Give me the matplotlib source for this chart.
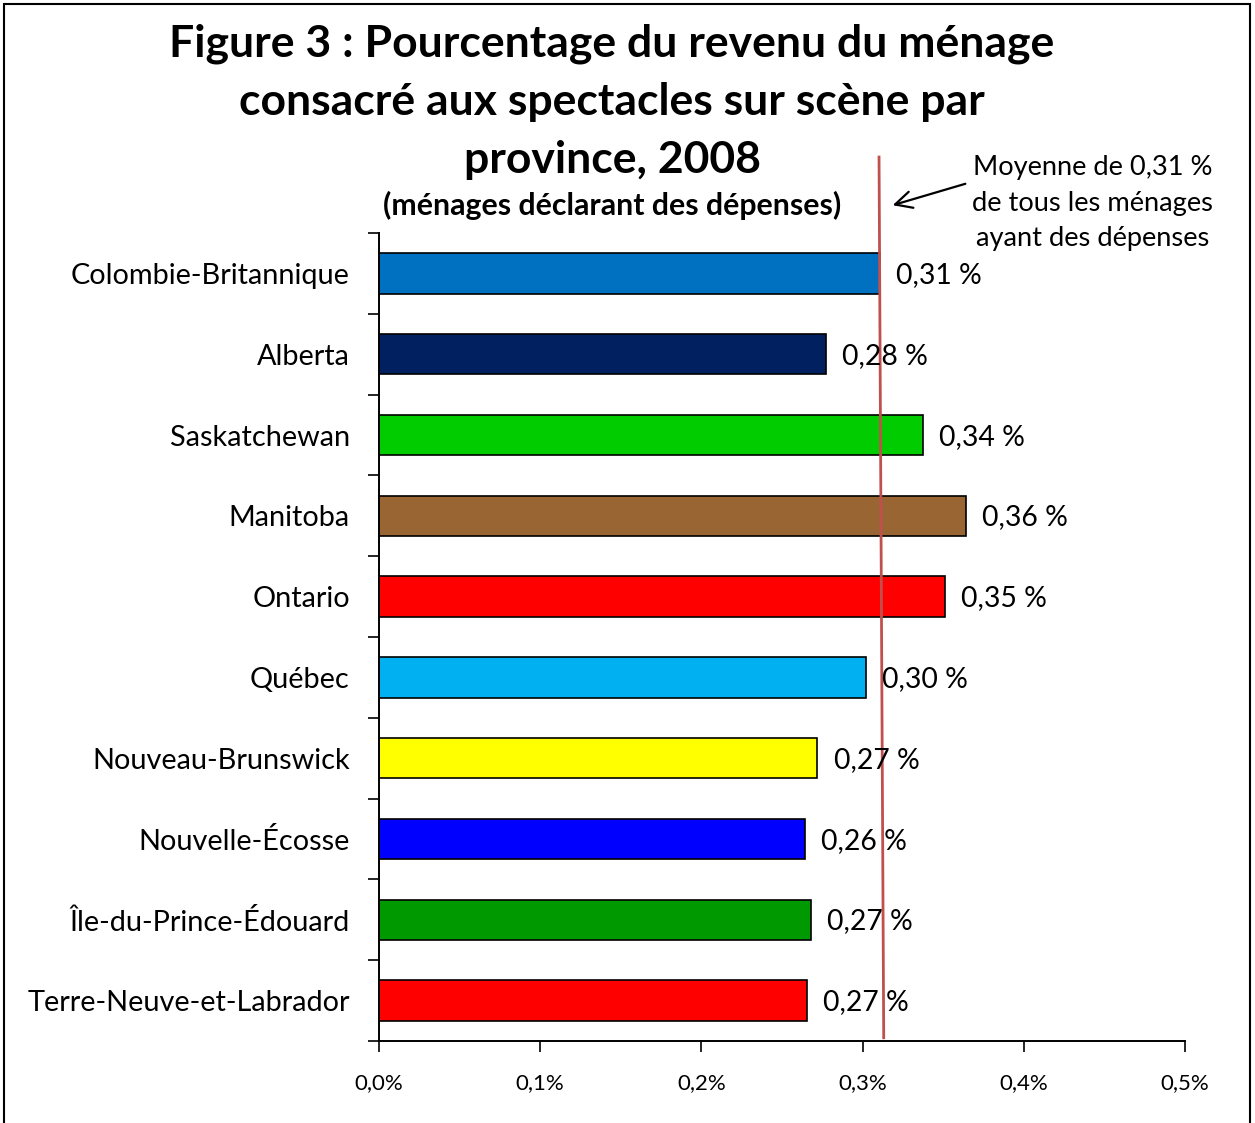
import matplotlib
matplotlib.use("Agg")
import matplotlib.pyplot as plt
import matplotlib.transforms as mtransforms
from matplotlib.patches import Rectangle

plt.rcParams['font.family'] = ['Lato', 'DejaVu Sans']

provinces = ["Colombie-Britannique", "Alberta", "Saskatchewan", "Manitoba", "Ontario",
             "Québec", "Nouveau-Brunswick", "Nouvelle-Écosse", "Île-du-Prince-Édouard",
             "Terre-Neuve-et-Labrador"]
values = [0.311, 0.277, 0.3375, 0.364, 0.351, 0.302, 0.272, 0.2645, 0.268, 0.2655]
value_labels = ["0,31 %", "0,28 %", "0,34 %", "0,36 %", "0,35 %", "0,30 %", "0,27 %",
                "0,26 %", "0,27 %", "0,27 %"]
colors = ["#0070C0", "#002060", "#00CC00", "#996633", "#FF0000", "#00B0F0", "#FFFF00",
          "#0000FF", "#009900", "#FF0000"]
xticks = [0.0, 0.1, 0.2, 0.3, 0.4, 0.5]
xtick_labels = ["0,0%", "0,1%", "0,2%", "0,3%", "0,4%", "0,5%"]
average = 0.31

W, H = 1255, 1123
fig = plt.figure(figsize=(W / 100, H / 100), dpi=100)
ax = fig.add_axes([379 / W, 1 - 1041 / H, (1185 - 379) / W, (1041 - 233) / H])

y = list(range(len(provinces)))
ax.barh(y, values, height=0.5, color=colors, edgecolor="black", linewidth=1.2, zorder=2)
ax.set_ylim(len(provinces) - 0.5, -0.5)
ax.set_xlim(0, 0.5)

for yi, v, lab in zip(y, values, value_labels):
    ax.text(v + 0.01, yi + 0.02, lab, va="center", ha="left", fontsize=20.4, zorder=4)

ax.set_yticks(y)
ax.set_yticklabels(provinces, fontsize=20.8)
ax.tick_params(axis="y", which="major", length=0, pad=21)
ax.set_yticks([i - 0.5 for i in range(len(provinces) + 1)], minor=True)
ax.tick_params(axis="y", which="minor", length=8, width=1.2, direction="out")
ax.set_xticks(xticks)
ax.set_xticklabels(xtick_labels, fontsize=16)
ax.tick_params(axis="x", length=8, width=1.2, direction="out", pad=15)
for s in ["top", "right"]:
    ax.spines[s].set_visible(False)
ax.spines["left"].set_linewidth(1.4)
ax.spines["bottom"].set_linewidth(1.4)

# average line (slightly slanted as in the original)
trans = mtransforms.blended_transform_factory(ax.transData, ax.transAxes)
ax.plot([0.3102, 0.3131], [1.094, 0.004], transform=trans, color="#C0504D",
        linewidth=2, clip_on=False, zorder=3)

# annotation
fig.text(1093 / W, 1 - 203 / H, "Moyenne de 0,31 %\nde tous les ménages\nayant des dépenses",
         ha="center", va="center", fontsize=19.6, linespacing=1.52)
fig.add_artist(matplotlib.patches.FancyArrowPatch(
    (968 / W, 1 - 183 / H), (890 / W, 1 - 206 / H), transform=fig.transFigure,
    arrowstyle="->,head_length=12,head_width=6", color="black", linewidth=1.6))

# titles
fig.text(612 / W, 1 - 101.5 / H,
         "Figure 3 : Pourcentage du revenu du ménage\nconsacré aux spectacles sur scène par\nprovince, 2008",
         ha="center", va="center", fontsize=32, fontweight="bold", linespacing=1.54)
fig.text(612 / W, 1 - 205 / H, "(ménages déclarant des dépenses)", ha="center", va="center",
         fontsize=21.8, fontweight="bold")

# outer frame
fig.add_artist(Rectangle((4 / W, -0.01), (W - 9) / W, 1.0 - 4 / H + 0.01,
                         transform=fig.transFigure, fill=False, edgecolor="black",
                         linewidth=1.5))

fig.savefig("out.png", dpi=100)
